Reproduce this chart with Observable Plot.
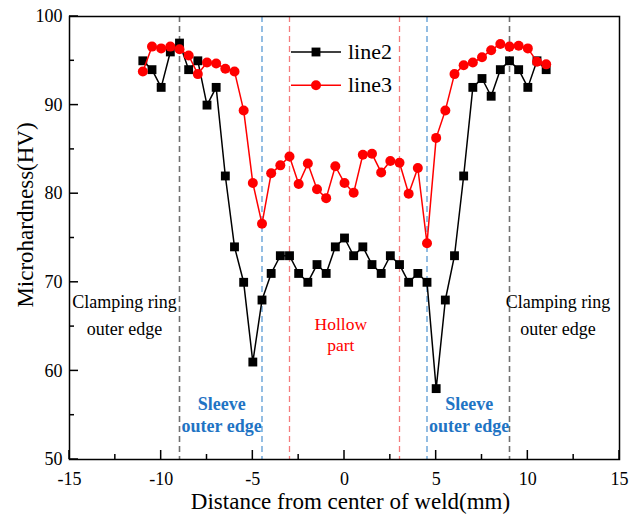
<!DOCTYPE html>
<html><head><meta charset="utf-8">
<script src="https://cdn.jsdelivr.net/npm/d3@7"></script>
<script src="https://cdn.jsdelivr.net/npm/@observablehq/plot@0.6"></script>
<style>
html,body{margin:0;padding:0;background:#fff}
#chart{position:relative;width:633px;height:518px}
</style>
</head><body><div id="chart"></div>
<script>
// Distance from center of weld (mm)
const xPos = [-11,-10.5,-10,-9.5,-9,-8.5,-8,-7.5,-7,-6.5,-6,-5.5,-5,-4.5,-4,-3.5,-3,-2.5,-2,-1.5,-1,-0.5,0,0.5,1,1.5,2,2.5,3,3.5,4,4.5,5,5.5,6,6.5,7,7.5,8,8.5,9,9.5,10,10.5,11];
// Microhardness (HV)
const line2 = [95,94,92,96,97,94,95,90,92,82,74,70,61,68,71,73,73,71,70,72,71,74,75,73,74,72,71,73,72,70,71,70,58,68,73,82,92,93,91,94,95,94,92,95,94];
const line3 = [93.8,96.6,96.4,96.6,96.3,95.6,93.5,94.8,94.7,94.1,93.8,89.4,81.2,76.6,82.3,83.2,84.2,81.1,83.4,80.5,79.5,83.1,81.2,80.1,84.4,84.5,82.4,83.7,83.5,80.0,82.9,74.4,86.3,89.4,93.5,94.5,94.8,95.4,96.2,96.9,96.6,96.7,96.4,94.9,94.6];
const seriesNames = ["line2","line3"];

// Guide lines (mm)
const clampEdges = [-9, 9];
const sleeveEdges = [-4.5, 4.5];
const hollowEdges = [-3, 3];

// Ticks
const xMajor = [-15,-10,-5,0,5,10,15];
const xMinor = [-12.5,-7.5,-2.5,2.5,7.5,12.5];
const yMajor = [50,60,70,80,90,100];
const yMinor = [55,65,75,85,95];

const xTitle = "Distance from center of weld(mm)";
const yTitle = "Microhardness(HV)";

// Annotations
const clampNotes = [{x: -12.0, y: 64.1, t: "Clamping ring\nouter edge"}, {x: 11.65, y: 64.1, t: "Clamping ring\nouter edge"}];
const hollowNotes = [{x: -0.2, y: 62.2, t: "Hollow\npart"}];
const sleeveNotes = [{x: -6.7, y: 53.1, t: "Sleeve\nouter edge"}, {x: 6.8, y: 53.1, t: "Sleeve\nouter edge"}];

const rows2 = xPos.map((x, i) => ({x, y: line2[i]}));
const rows3 = xPos.map((x, i) => ({x, y: line3[i]}));

const W = 633, H = 518, ML = 69, MR = 14, MT = 16, MB = 59;
const MAJ = 9, MIN = 5;

const FONT = "'Liberation Serif', 'Times New Roman', serif";
const RED = "#ff0000";
const BLUE_TXT = "#1f74c4";

const plot = Plot.plot({
  width: W, height: H,
  marginLeft: ML, marginRight: MR, marginTop: MT, marginBottom: MB,
  style: {fontFamily: FONT, fontSize: "18px", background: "#fff", color: "#000", overflow: "visible"},
  x: {domain: [-15, 15]},
  y: {domain: [50, 100]},
  marks: [
    Plot.ruleX(clampEdges, {stroke: "#707070", strokeWidth: 1.6, strokeDasharray: "6,4"}),
    Plot.ruleX(sleeveEdges, {stroke: "#5b9bd5", strokeWidth: 1.3, strokeDasharray: "6,4"}),
    Plot.ruleX(hollowEdges, {stroke: "#f47c7c", strokeWidth: 1.3, strokeDasharray: "6,4"}),
    Plot.line(rows2, {x: "x", y: "y", stroke: "#000", strokeWidth: 1.5}),
    Plot.dot(rows2, {x: "x", y: "y", symbol: "square", r: 5, fill: "#000", stroke: "none"}),
    Plot.line(rows3, {x: "x", y: "y", stroke: RED, strokeWidth: 1.5}),
    Plot.dot(rows3, {x: "x", y: "y", symbol: "circle", r: 5, fill: RED, stroke: "none"}),
    Plot.text(clampNotes, {x: "x", y: "y", text: "t", lineAnchor: "bottom", lineHeight: 1.48, fontSize: 18, fill: "#000", fontFamily: FONT}),
    Plot.text(hollowNotes, {x: "x", y: "y", text: "t", lineAnchor: "bottom", lineHeight: 1.2, fontSize: 17.5, fill: RED, fontFamily: FONT}),
    Plot.text(sleeveNotes, {x: "x", y: "y", text: "t", lineAnchor: "bottom", lineHeight: 1.2, fontSize: 18, fontWeight: "bold", fill: BLUE_TXT, fontFamily: FONT}),
    // tick labels
    Plot.axisX(xMajor, {tickSize: 0, tickPadding: 13, fontSize: 18, label: null, tickFormat: d => String(d)}),
    Plot.axisY(yMajor, {tickSize: 0, tickPadding: 7, fontSize: 18, label: null}),
    Plot.frame({stroke: "#000", strokeWidth: 1.5}),
    Plot.text([xTitle], {text: d => d, frameAnchor: "bottom", dx: 6, dy: 49, lineAnchor: "bottom", textAnchor: "middle", fontSize: 23, fontFamily: FONT, fill: "#000"}),
    Plot.text([yTitle], {text: d => d, frameAnchor: "left", dx: -44, dy: -23, rotate: -90, lineAnchor: "middle", textAnchor: "middle", fontSize: 23, fontFamily: FONT, fill: "#000"})
  ]
});
document.getElementById("chart").appendChild(plot);

// Inward ticks, positioned through Plot's own scales
const sx = plot.scale("x"), sy = plot.scale("y");
const yBottom = H - MB, xLeft = ML;
const tg = d3.select(plot).append("g").attr("stroke", "#000").attr("stroke-width", 1.5);
[[xMajor, MAJ], [xMinor, MIN]].forEach(([ticks, len]) => {
  ticks.forEach(v => {
    const px = sx.apply(v);
    tg.append("line").attr("x1", px).attr("x2", px).attr("y1", yBottom).attr("y2", yBottom - len);
  });
});
[[yMajor, MAJ], [yMinor, MIN]].forEach(([ticks, len]) => {
  ticks.forEach(v => {
    const py = sy.apply(v);
    tg.append("line").attr("x1", xLeft).attr("x2", xLeft + len).attr("y1", py).attr("y2", py);
  });
});

// Legend drawn inside plot area
const legendColors = ["#000", RED];
const legendSymbols = [d3.symbolSquare, d3.symbolCircle];
const lg = d3.select(plot).append("g").attr("font-family", FONT).attr("text-anchor", "start");
seriesNames.forEach((name, i) => {
  const cy = 52 + i * 33.3;
  lg.append("line").attr("x1", 291).attr("x2", 341).attr("y1", cy).attr("y2", cy)
    .attr("stroke", legendColors[i]).attr("stroke-width", 1.5);
  lg.append("path").attr("transform", `translate(316,${cy})`)
    .attr("d", d3.symbol(legendSymbols[i], 5 * 5 * Math.PI)())
    .attr("fill", legendColors[i]);
  lg.append("text").attr("x", 348).attr("y", cy).attr("dy", "0.32em")
    .attr("font-size", 22).attr("fill", "#000").attr("text-anchor", "start").text(name);
});
</script>
</body></html>
